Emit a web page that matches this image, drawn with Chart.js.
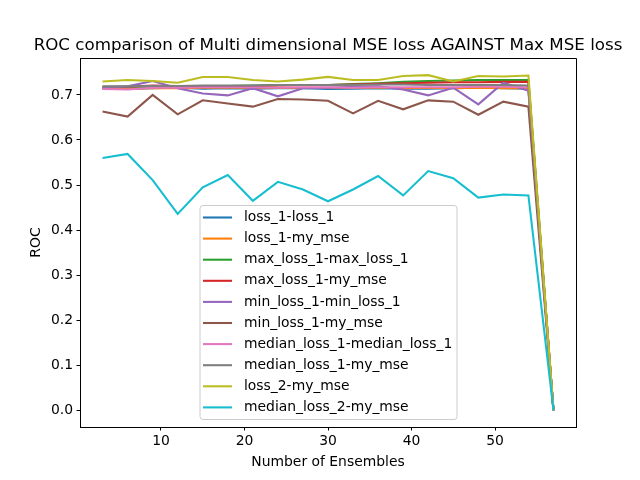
<!DOCTYPE html>
<html>
<head>
<meta charset="utf-8">
<script src="https://cdn.jsdelivr.net/npm/chart.js@4"></script>
<style>
  html, body { margin: 0; padding: 0; background: #fff; }
  #wrap { width: 640px; height: 480px; }
</style>
</head>
<body>
<div id="wrap"><canvas id="chartRoc" width="640" height="480"></canvas></div>
<script>
// number of ensembles on x
const ensembles = [3, 6, 9, 12, 15, 18, 21, 24, 27, 30, 33, 36, 39, 42, 45, 48, 51, 54, 57];

const loss1Loss1 = [0.714, 0.713, 0.715, 0.716, 0.714, 0.715, 0.714, 0.715, 0.715, 0.713, 0.714, 0.715, 0.714, 0.714, 0.715, 0.716, 0.715, 0.714, 0.0];
const loss1MyMse = [0.713, 0.714, 0.715, 0.715, 0.716, 0.716, 0.716, 0.716, 0.716, 0.716, 0.716, 0.716, 0.715, 0.716, 0.715, 0.716, 0.715, 0.715, 0.0];
const maxLoss1MaxLoss1 = [0.718, 0.718, 0.719, 0.719, 0.720, 0.720, 0.721, 0.722, 0.722, 0.722, 0.724, 0.726, 0.729, 0.731, 0.732, 0.733, 0.733, 0.733, 0.0];
const maxLoss1MyMse = [0.717, 0.718, 0.721, 0.720, 0.719, 0.720, 0.720, 0.721, 0.722, 0.722, 0.723, 0.725, 0.726, 0.727, 0.728, 0.728, 0.729, 0.729, 0.0];
const minLoss1MinLoss1 = [0.716, 0.719, 0.731, 0.715, 0.703, 0.699, 0.715, 0.697, 0.715, 0.716, 0.718, 0.719, 0.712, 0.699, 0.716, 0.679, 0.727, 0.709, 0.0];
const minLoss1MyMse = [0.663, 0.652, 0.700, 0.657, 0.688, 0.681, 0.674, 0.691, 0.690, 0.687, 0.659, 0.687, 0.668, 0.688, 0.685, 0.656, 0.685, 0.674, 0.0];
const medianLoss1MedianLoss1 = [0.713, 0.712, 0.716, 0.716, 0.717, 0.717, 0.717, 0.716, 0.717, 0.717, 0.716, 0.717, 0.717, 0.717, 0.717, 0.718, 0.718, 0.717, 0.0];
const medianLoss1MyMse = [0.719, 0.719, 0.720, 0.720, 0.721, 0.721, 0.721, 0.722, 0.722, 0.722, 0.722, 0.723, 0.723, 0.722, 0.722, 0.722, 0.722, 0.721, 0.0];
const loss2MyMse = [0.730, 0.733, 0.731, 0.727, 0.740, 0.740, 0.733, 0.730, 0.734, 0.740, 0.733, 0.733, 0.742, 0.744, 0.730, 0.742, 0.741, 0.743, 0.0];
const medianLoss2MyMse = [0.560, 0.569, 0.511, 0.436, 0.495, 0.522, 0.465, 0.507, 0.490, 0.464, 0.490, 0.520, 0.477, 0.531, 0.515, 0.472, 0.479, 0.477, 0.0];

const seriesNames = ['loss_1-loss_1', 'loss_1-my_mse', 'max_loss_1-max_loss_1', 'max_loss_1-my_mse',
  'min_loss_1-min_loss_1', 'min_loss_1-my_mse', 'median_loss_1-median_loss_1', 'median_loss_1-my_mse',
  'loss_2-my_mse', 'median_loss_2-my_mse'];
const seriesValues = [loss1Loss1, loss1MyMse, maxLoss1MaxLoss1, maxLoss1MyMse, minLoss1MinLoss1,
  minLoss1MyMse, medianLoss1MedianLoss1, medianLoss1MyMse, loss2MyMse, medianLoss2MyMse];
const colors = ['#1f77b4', '#ff7f0e', '#2ca02c', '#d62728', '#9467bd', '#8c564b', '#e377c2', '#7f7f7f', '#bcbd22', '#17becf'];

const xTicks = [10, 20, 30, 40, 50];
const yTicks = [0.0, 0.1, 0.2, 0.3, 0.4, 0.5, 0.6, 0.7];

const titleText = 'ROC comparison of Multi dimensional MSE loss AGAINST Max MSE loss';
const xLabel = 'Number of Ensembles';
const yLabel = 'ROC';

const FONT = 'DejaVu Sans';

// title, axis labels, top/right spines and the legend box, matplotlib style
const mplExtras = {
  id: 'mplExtras',
  afterDraw(chart) {
    const c = chart.ctx;
    const a = chart.chartArea;
    const cx = (a.left + a.right) / 2;
    c.save();
    c.strokeStyle = '#000';
    c.lineWidth = 1;
    c.beginPath();
    c.moveTo(a.left, a.top + 0.5);
    c.lineTo(a.right + 0.5, a.top + 0.5);
    c.lineTo(a.right + 0.5, a.bottom);
    c.stroke();

    c.fillStyle = '#000';
    c.font = '16.7px "' + FONT + '"';
    c.textAlign = 'center';
    c.textBaseline = 'alphabetic';
    c.fillText(titleText, cx, a.top - 8.3);

    c.font = '13.9px "' + FONT + '"';
    c.textBaseline = 'middle';
    c.fillText(xLabel, cx, 462);
    c.save();
    c.translate(36, (a.top + a.bottom) / 2);
    c.rotate(-Math.PI / 2);
    c.fillText(yLabel, 0, 0);
    c.restore();

    // legend
    const boxW = 257, boxH = 214;
    const bx = cx - boxW / 2 + 0.5;
    const by = a.bottom - 8 - boxH;
    c.beginPath();
    c.roundRect(bx, by + 0.5, boxW, boxH, 3);
    c.fillStyle = 'rgba(255,255,255,0.8)';
    c.fill();
    c.strokeStyle = '#cccccc';
    c.lineWidth = 1;
    c.stroke();
    c.textAlign = 'left';
    chart.data.datasets.forEach((ds, i) => {
      const y = by + 12.5 + i * 21.1;
      c.strokeStyle = ds.borderColor;
      c.lineWidth = 2.08;
      c.beginPath();
      c.moveTo(bx + 3, y);
      c.lineTo(bx + 32, y);
      c.stroke();
      c.fillStyle = '#000';
      c.fillText(ds.label, bx + 44, y);
    });
    c.restore();
  }
};

const ctx = document.getElementById('chartRoc');

new Chart(ctx, {
  type: 'line',
  data: {
    datasets: seriesNames.map((name, i) => ({
      label: name,
      data: ensembles.map((x, j) => ({ x: x, y: seriesValues[i][j] })),
      borderColor: colors[i],
      backgroundColor: colors[i],
      borderWidth: 2.08,
      pointRadius: 0,
      tension: 0,
      fill: false,
      order: seriesNames.length - i
    }))
  },
  options: {
    responsive: false,
    animation: false,
    events: [],
    layout: { padding: { top: 58, right: 64, left: 0, bottom: 0 } },
    plugins: {
      legend: { display: false },
      title: { display: false },
      tooltip: { enabled: false }
    },
    scales: {
      x: {
        type: 'linear',
        min: 0.3,
        max: 59.7,
        afterFit(scale) { scale.height = 53; },
        afterBuildTicks(scale) { scale.ticks = xTicks.map(v => ({ value: v })); },
        grid: { display: true, drawOnChartArea: false, drawTicks: true, tickLength: 3.5, color: '#000', lineWidth: 1 },
        border: { display: true, color: '#000', width: 1 },
        ticks: {
          autoSkip: false, maxRotation: 0, padding: 3,
          color: '#000', font: { family: FONT, size: 13.9 },
          callback: v => String(v)
        }
      },
      y: {
        type: 'linear',
        min: -0.0372,
        max: 0.782,
        afterFit(scale) { scale.width = 80; },
        afterBuildTicks(scale) { scale.ticks = yTicks.map(v => ({ value: v })); },
        grid: { display: true, drawOnChartArea: false, drawTicks: true, tickLength: 3.5, color: '#000', lineWidth: 1 },
        border: { display: true, color: '#000', width: 1 },
        ticks: {
          autoSkip: false, padding: 3.5,
          color: '#000', font: { family: FONT, size: 13.9 },
          callback: v => v.toFixed(1)
        }
      }
    }
  },
  plugins: [mplExtras]
});
</script>
</body>
</html>
